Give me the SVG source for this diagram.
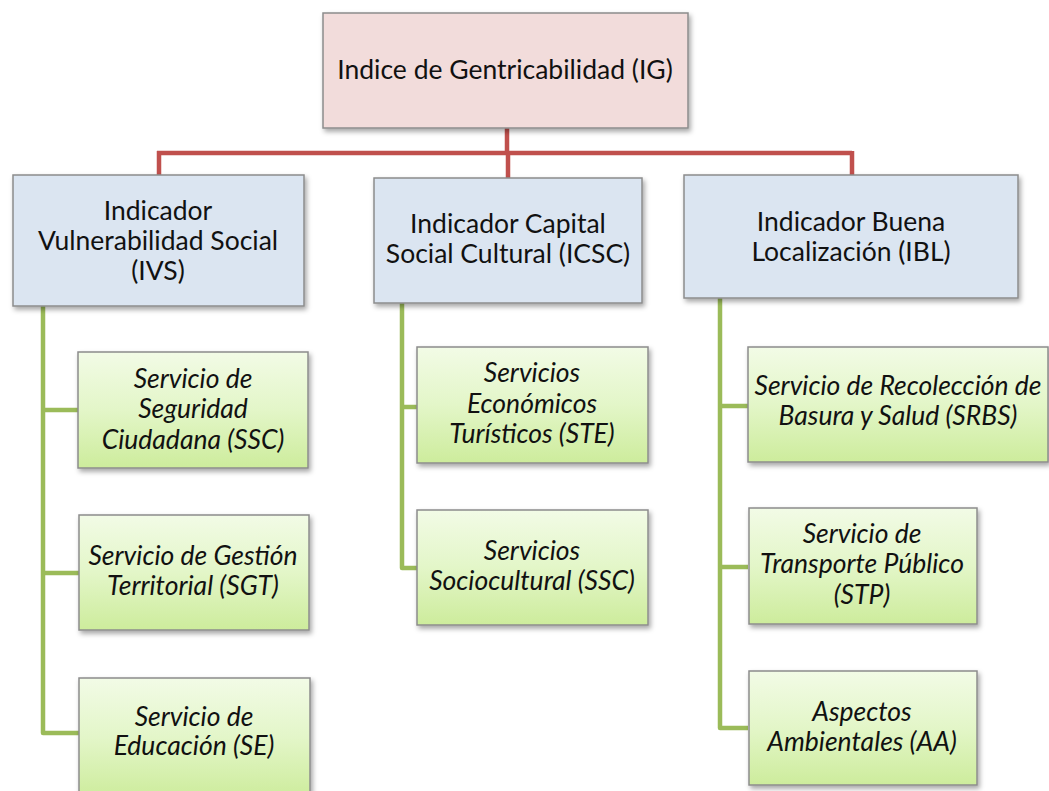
<svg xmlns="http://www.w3.org/2000/svg" width="1049" height="791" viewBox="0 0 1049 791">
<defs>
<linearGradient id="gg" x1="0" y1="0" x2="0" y2="1">
<stop offset="0" stop-color="#F2FBE6"/>
<stop offset="0.5" stop-color="#E3F6C8"/>
<stop offset="1" stop-color="#CDEC9C"/>
</linearGradient>
<filter id="sh" x="-10%" y="-10%" width="125%" height="130%">
<feDropShadow dx="2" dy="3" stdDeviation="2.5" flood-color="#000" flood-opacity="0.35"/>
</filter>
<style>
.root{fill:#F2DCDB;stroke:#8C8C8C;stroke-width:1.5;filter:url(#sh)}
.ind{fill:#DBE5F1;stroke:#8C8C8C;stroke-width:1.5;filter:url(#sh)}
.svc{fill:url(#gg);stroke:#8C8C8C;stroke-width:1.5;filter:url(#sh)}
.t{font-family:Lato,"Open Sans","Liberation Sans",sans-serif;font-size:26.5px;fill:#111;text-anchor:middle}
.i{font-style:italic}
.red{stroke:#C0504D;stroke-width:4.5;fill:none}
.grn{stroke:#9BBB59;stroke-width:4.5;fill:none;stroke-linejoin:round}
</style>
</defs>
<rect width="1049" height="791" fill="#fff"/>
<g id="connectors">
<path class="red" d="M507 128 V153 M157 153 H852 M159 151 V175 M508 151 V178 M852 151 V175"/>
<path class="grn" d="M43 306 V733 H79 M43 410 H79 M43 573 H79"/>
<path class="grn" d="M402 303 V568 H417 M402 407 H417"/>
<path class="grn" d="M720 298 V728 H748 M720 406 H748 M720 567 H748"/>
</g>
<g id="IG">
<rect class="root" x="323" y="13" width="365" height="115"/>
<text class="t" x="505" y="79">Indice de Gentricabilidad (IG)</text>
</g>
<g id="IVS">
<rect class="ind" x="13" y="175" width="291" height="131"/>
<text class="t" x="158" y="220">Indicador</text>
<text class="t" x="158" y="250">Vulnerabilidad Social</text>
<text class="t" x="158" y="280">(IVS)</text>
</g>
<g id="ICSC">
<rect class="ind" x="374" y="178" width="268" height="125"/>
<text class="t" x="508" y="233">Indicador Capital</text>
<text class="t" x="508" y="263">Social Cultural (ICSC)</text>
</g>
<g id="IBL">
<rect class="ind" x="684" y="175" width="334" height="123"/>
<text class="t" x="851" y="231">Indicador Buena</text>
<text class="t" x="851" y="261">Localización (IBL)</text>
</g>
<g id="SSC">
<rect class="svc" x="78" y="352" width="230" height="116"/>
<text class="t i" x="193" y="388">Servicio de</text>
<text class="t i" x="193" y="418">Seguridad</text>
<text class="t i" x="193" y="449">Ciudadana (SSC)</text>
</g>
<g id="SGT">
<rect class="svc" x="79" y="515" width="230" height="115"/>
<text class="t i" x="193" y="565">Servicio de Gestión</text>
<text class="t i" x="193" y="595">Territorial (SGT)</text>
</g>
<g id="SE">
<rect class="svc" x="79" y="678" width="231" height="120"/>
<text class="t i" x="194" y="726">Servicio de</text>
<text class="t i" x="194" y="755">Educación (SE)</text>
</g>
<g id="STE">
<rect class="svc" x="417" y="347" width="231" height="116"/>
<text class="t i" x="532" y="382">Servicios</text>
<text class="t i" x="532" y="413">Económicos</text>
<text class="t i" x="532" y="443">Turísticos (STE)</text>
</g>
<g id="SSC2">
<rect class="svc" x="417" y="510" width="231" height="115"/>
<text class="t i" x="532" y="560">Servicios</text>
<text class="t i" x="532" y="590">Sociocultural (SSC)</text>
</g>
<g id="SRBS">
<rect class="svc" x="748" y="347" width="300" height="115"/>
<text class="t i" x="898" y="395">Servicio de Recolección de</text>
<text class="t i" x="898" y="425">Basura y Salud (SRBS)</text>
</g>
<g id="STP">
<rect class="svc" x="749" y="508" width="228" height="116"/>
<text class="t i" x="862" y="543">Servicio de</text>
<text class="t i" x="862" y="573">Transporte Público</text>
<text class="t i" x="862" y="604">(STP)</text>
</g>
<g id="AA">
<rect class="svc" x="749" y="671" width="228" height="114"/>
<text class="t i" x="862" y="721">Aspectos</text>
<text class="t i" x="862" y="751">Ambientales (AA)</text>
</g>
</svg>
